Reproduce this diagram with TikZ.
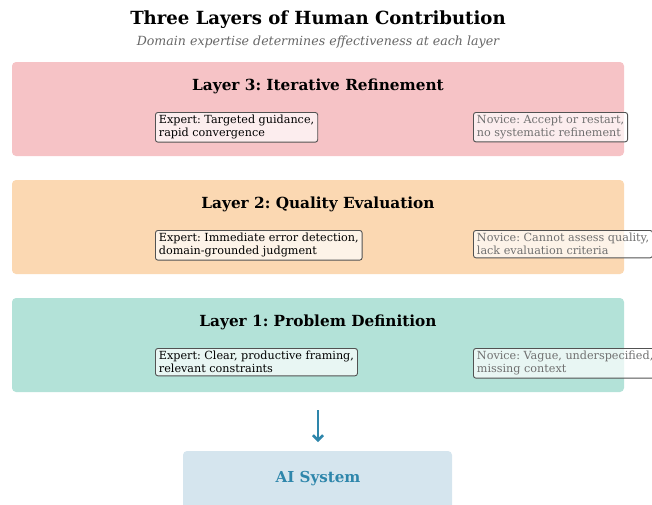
\documentclass[tikz,border=0pt]{standalone}
\usepackage{fontspec}
\setmainfont{DejaVu Serif}
\usetikzlibrary{arrows.meta}
\frenchspacing
\definecolor{pinkL}{HTML}{F6C3C6}
\definecolor{orangeL}{HTML}{FBD8B2}
\definecolor{tealL}{HTML}{B3E2D8}
\definecolor{aibox}{HTML}{D5E5EE}
\definecolor{aiblue}{HTML}{2E86AB}
\definecolor{novgray}{HTML}{707070}
\definecolor{subgray}{HTML}{666666}
\tikzset{
  layerbox/.style={rounded corners=4pt, draw=none},
  layertitle/.style={font=\fontsize{15.3}{18}\selectfont\bfseries, anchor=center},
  expertbox/.style={draw=black!68, line width=0.9pt, rounded corners=2.5pt, fill=white, fill opacity=0.7, text opacity=1, align=left, anchor=north west, inner xsep=3.5pt, inner ysep=3pt, font=\fontsize{11.2}{12.7}\selectfont},
  novicebox/.style={expertbox, text=novgray},
}
\begin{document}
\begin{tikzpicture}[x=1pt,y=-1pt]
\useasboundingbox (0,0) rectangle (652,504);
\clip (0,0) rectangle (652,504);
\node[font=\fontsize{18.1}{21}\selectfont\bfseries] (title) at (318,20) {Three Layers of Human Contribution};
\node[font=\fontsize{12.6}{15}\selectfont\itshape, text=subgray] (sub) at (318,42) {Domain expertise determines effectiveness at each layer};
% Layer 3
\draw[layerbox, fill=pinkL] (12,62) rectangle (624,156);
\node[layertitle] (l3) at (318,86) {Layer 3: Iterative Refinement};
\node[expertbox] (e3) at (155,112) {Expert: Targeted guidance,\\rapid convergence};
\node[novicebox] (n3) at (473,112) {Novice: Accept or restart,\\no systematic refinement};
% Layer 2
\draw[layerbox, fill=orangeL] (12,180) rectangle (624,274);
\node[layertitle] (l2) at (318,204) {Layer 2: Quality Evaluation};
\node[expertbox] (e2) at (155,230) {Expert: Immediate error detection,\\domain-grounded judgment};
\node[novicebox] (n2) at (473,230) {Novice: Cannot assess quality,\\lack evaluation criteria};
% Layer 1
\draw[layerbox, fill=tealL] (12,298) rectangle (624,392);
\node[layertitle] (l1) at (318,322) {Layer 1: Problem Definition};
\node[expertbox] (e1) at (155,348) {Expert: Clear, productive framing,\\relevant constraints};
\node[novicebox] (n1) at (473,348) {Novice: Vague, underspecified,\\missing context};
% AI system
\draw[layerbox, fill=aibox] (183,451) rectangle (452,520);
\node[font=\fontsize{15.1}{18}\selectfont\bfseries, text=aiblue] (ai) at (318,479) {AI System};
\coordinate (astart) at (318,410);
\coordinate (aend) at (318,442);
\draw[aiblue, line width=2.5pt, -{Straight Barb[length=5pt,width=10pt]}] (astart) -- (aend);
\end{tikzpicture}
\end{document}
